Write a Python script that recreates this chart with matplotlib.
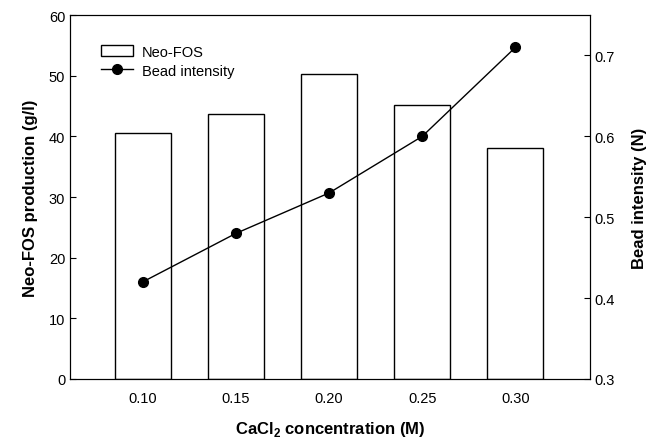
import matplotlib
matplotlib.use("Agg")
import matplotlib.pyplot as plt
from matplotlib.lines import Line2D
from matplotlib.patches import Patch

plt.rcParams['font.family'] = ['Liberation Sans', 'DejaVu Sans']

conc = [0.10, 0.15, 0.20, 0.25, 0.30]
conc_labels = ['0.10', '0.15', '0.20', '0.25', '0.30']
neo_fos = [40.5, 43.7, 50.3, 45.1, 38.0]
bead = [0.42, 0.48, 0.53, 0.60, 0.71]

fig = plt.figure(figsize=(6.62, 4.39), dpi=100)
ax = fig.add_axes([70/662, 1-380/439, 520/662, 364/439])
ax.bar(conc, neo_fos, width=0.03, facecolor='white', edgecolor='black', linewidth=1.0, zorder=2)
ax.set_xlim(0.061, 0.340)
ax.set_ylim(0, 60)
ax.set_yticks([0, 10, 20, 30, 40, 50, 60])
ax.set_xticks(conc)
ax.set_xticklabels(conc_labels)
ax.tick_params(axis='x', length=0, labelsize=10.5, pad=9)
ax.tick_params(axis='y', direction='in', length=4, labelsize=10.5, right=False)
ax.set_xlabel(r'CaCl$_\mathregular{2}$ concentration (M)', fontsize=12, fontweight='bold', labelpad=10)
ax.set_ylabel('Neo-FOS production (g/l)', fontsize=12, fontweight='bold', labelpad=8)

ax2 = ax.twinx()
ax2.plot(conc, bead, color='black', marker='o', markersize=7, linewidth=1.0, zorder=3)
ax2.set_ylim(0.3, 0.75)
ax2.set_yticks([0.3, 0.4, 0.5, 0.6, 0.7])
ax2.tick_params(axis='y', direction='in', length=4, labelsize=10.5)
ax2.set_ylabel('Bead intensity (N)', fontsize=12, fontweight='bold', labelpad=12)

handles = [Patch(facecolor='white', edgecolor='black', linewidth=1.0, label='Neo-FOS'),
           Line2D([0], [0], color='black', marker='o', markersize=7, linewidth=1.0, label='Bead intensity')]
ax.legend(handles=handles, loc='upper left', bbox_to_anchor=(0.035, 0.955), frameon=False,
          fontsize=10.5, handlelength=2.2, handleheight=0.8, handletextpad=0.6, labelspacing=0.35)

fig.savefig('out.png', dpi=100)
